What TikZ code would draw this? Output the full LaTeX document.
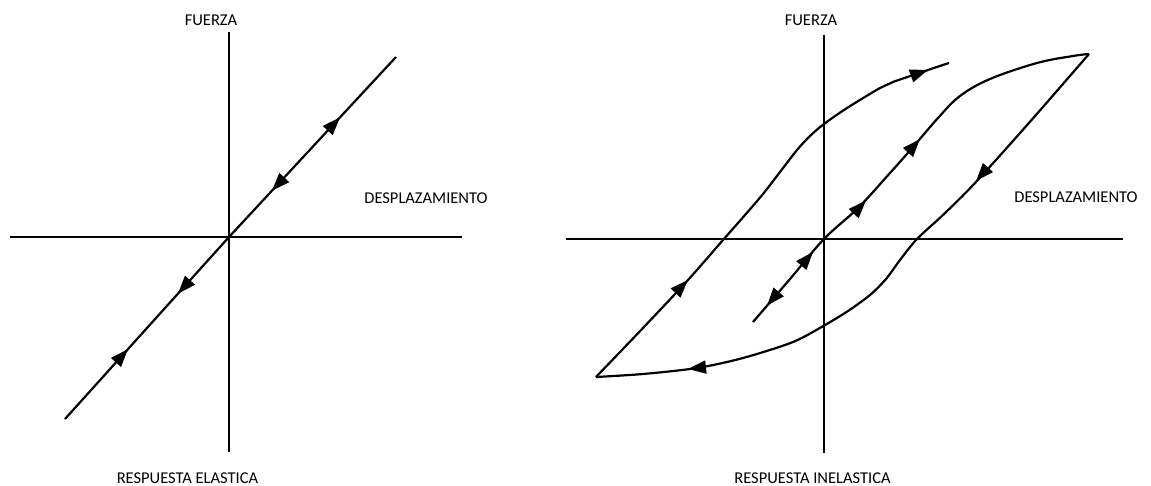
\documentclass[tikz,border=0pt]{standalone}
\usepackage{fontspec}
\setmainfont{Carlito}
\usetikzlibrary{arrows.meta}
\begin{document}
\begin{tikzpicture}[x=1pt,y=-1pt,
  axis/.style={line width=1.5pt,black},
  curve/.style={line width=2.2pt,black,line join=round},
  arrowseg/.style={line width=2.2pt,-{Triangle[length=18pt,width=13pt]}},
  lbl/.style={inner sep=0pt,font=\fontsize{16.5}{19}\selectfont}]
\useasboundingbox (0,0) rectangle (1151,486);
% ---------- left: elastic ----------
\draw[axis] (10,237) -- (462,237);
\draw[axis] (229,32) -- (229,452);
\draw[curve] (65,419) -- (229,237) -- (396,57);
\draw[arrowseg] (331.8,126.2) -- (340,117.4);
\draw[arrowseg] (280.2,181.9) -- (272,190.7);
\draw[arrowseg] (186,284.7) -- (178,293.6);
\draw[arrowseg] (120,358) -- (128,349.1);
\node[lbl] (f1) at (211,20) {FUERZA};
\node[lbl] (d1) at (426,198) {DESPLAZAMIENTO};
\node[lbl] (r1) at (187.5,478) {RESPUESTA ELASTICA};
% ---------- right: inelastic ----------
\draw[axis] (566,239) -- (1123,239);
\draw[axis] (824,35) -- (824,453);
% inner line + upper curve
\draw[curve] plot[smooth,tension=0.6] coordinates {(753,322) (790,279) (824,239) (858,208) (890,173) (913,147) (938,118) (960,96) (990,79) (1037,63) (1073,56) (1089,54)};
% right side + bottom curve
\draw[curve] plot[smooth,tension=0.5] coordinates {(1089,54) (1028,124) (975,183) (944,214) (917,239) (900,260) (886,279) (870,295) (848,311) (825,325) (793,342) (743,358) (697,368) (643,374) (596,377)};
% left branch
\draw[curve] plot[smooth,tension=0.5] coordinates {(596,377) (643,328) (688,280) (723,240) (745,215) (763,194) (780,172) (797,150) (810,136) (824,124) (847,108) (880,88) (893,82) (928,70) (949,63)};
% arrowheads
\draw[arrowseg] (774.8,296.5) -- (767,305.6);
\draw[arrowseg] (805.2,261) -- (813,251.9);
\draw[arrowseg] (858,209) -- (866,200.5);
\draw[arrowseg] (912,148) -- (920,139.1);
\draw[arrowseg] (984,172) -- (976,181);
\draw[arrowseg] (700,367.7) -- (688,369);
\draw[arrowseg] (679.7,288.7) -- (688,280);
\draw[arrowseg] (916.5,74) -- (928,70);
\node[lbl] (f2) at (811,20) {FUERZA};
\node[lbl] (d2) at (1076,197) {DESPLAZAMIENTO};
\node[lbl] (r2) at (812.5,478) {RESPUESTA INELASTICA};
\end{tikzpicture}
\end{document}
